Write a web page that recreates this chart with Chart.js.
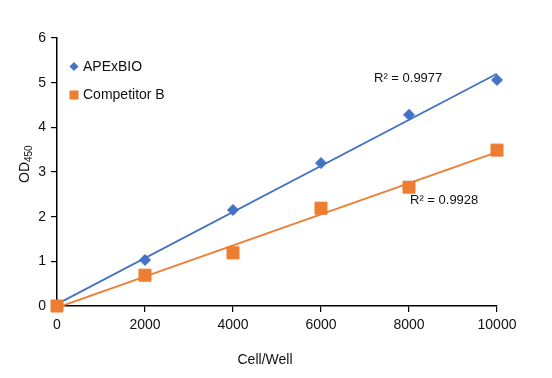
<!DOCTYPE html>
<html>
<head>
<meta charset="utf-8">
<script src="https://cdn.jsdelivr.net/npm/chart.js@4/dist/chart.umd.min.js"></script>
<style>
  html, body { margin: 0; padding: 0; background: #fff; }
  #wrap { width: 552px; height: 378px; }
</style>
</head>
<body>
<div id="wrap"><canvas id="chart" width="552" height="378"></canvas></div>
<script>
const cells = [0, 2000, 4000, 6000, 8000, 10000];
const apexbio = [0, 1.03, 2.15, 3.2, 4.28, 5.06];
const competitorB = [0, 0.69, 1.19, 2.19, 2.66, 3.49];
const seriesNames = ['APExBIO', 'Competitor B'];
const r2Labels = ['R² = 0.9977', 'R² = 0.9928'];
const xTitle = 'Cell/Well';

const BLUE = '#4472C4';
const ORANGE = '#ED7D31';
const FONT = "'Liberation Sans', Arial, sans-serif";

// least squares fit, drawn across the x range like the Excel trendline
function trend(xs, ys) {
    const n = xs.length;
    const mx = xs.reduce((a, b) => a + b, 0) / n;
    const my = ys.reduce((a, b) => a + b, 0) / n;
    let sxy = 0, sxx = 0;
    xs.forEach((x, i) => { sxy += (x - mx) * (ys[i] - my); sxx += (x - mx) * (x - mx); });
    const slope = sxy / sxx;
    const icpt = my - slope * mx;
    const x0 = xs[0], x1 = xs[n - 1];
    return [{ x: x0, y: icpt + slope * x0 }, { x: x1, y: icpt + slope * x1 }];
}

const pts = ys => cells.map((x, i) => ({ x: x, y: ys[i] }));

const annotations = {
    id: 'annotations',
    afterDraw(chart) {
        const ctx = chart.ctx;
        const xs = chart.scales.x, ys = chart.scales.y;
        ctx.save();
        ctx.fillStyle = '#111';
        ctx.textBaseline = 'middle';

        // R² labels
        ctx.font = '13px ' + FONT;
        ctx.textAlign = 'left';
        ctx.fillText(r2Labels[0], xs.getPixelForValue(7205), ys.getPixelForValue(5.1));
        ctx.fillText(r2Labels[1], xs.getPixelForValue(8023), ys.getPixelForValue(2.36));

        // legend in the plot area
        const lx = chart.chartArea.left + 17;
        ctx.font = '14px ' + FONT;
        ctx.fillStyle = BLUE;
        ctx.beginPath();
        ctx.moveTo(lx, 62); ctx.lineTo(lx + 4.5, 66.5); ctx.lineTo(lx, 71); ctx.lineTo(lx - 4.5, 66.5);
        ctx.closePath(); ctx.fill();
        ctx.fillStyle = ORANGE;
        ctx.fillRect(lx - 4.5, 90.5, 9, 9);
        ctx.fillStyle = '#111';
        ctx.fillText(seriesNames[0], lx + 9, 67);
        ctx.fillText(seriesNames[1], lx + 9, 95.5);

        // axis titles
        ctx.textAlign = 'center';
        ctx.fillText(xTitle, 265, 360);

        ctx.translate(25, 183);
        ctx.rotate(-Math.PI / 2);
        ctx.textAlign = 'left';
        ctx.font = '14px ' + FONT;
        ctx.fillText('OD', 0, 0);
        const w = ctx.measureText('OD').width;
        ctx.font = '10px ' + FONT;
        ctx.fillText('450', w, 4);
        ctx.restore();
    }
};

new Chart(document.getElementById('chart'), {
    type: 'scatter',
    data: {
        datasets: [
            {
                label: seriesNames[0],
                data: pts(apexbio),
                backgroundColor: BLUE,
                borderColor: BLUE,
                pointStyle: 'rectRot',
                pointRadius: 5.5,
                pointHoverRadius: 5.5,
                clip: false,
                order: 1
            },
            {
                label: seriesNames[1],
                data: pts(competitorB),
                backgroundColor: ORANGE,
                borderColor: ORANGE,
                pointStyle: 'rect',
                pointRadius: 8.5,
                pointHoverRadius: 8.5,
                clip: false,
                order: 0
            },
            {
                label: 'trend1',
                data: trend(cells, apexbio),
                showLine: true,
                borderColor: BLUE,
                borderWidth: 1.8,
                pointRadius: 0,
                clip: false,
                order: 2
            },
            {
                label: 'trend2',
                data: trend(cells, competitorB),
                showLine: true,
                borderColor: ORANGE,
                borderWidth: 1.8,
                pointRadius: 0,
                clip: false,
                order: 2
            }
        ]
    },
    options: {
        responsive: false,
        animation: false,
        layout: { padding: { left: 0, right: 55, top: 38, bottom: 0 } },
        plugins: {
            legend: { display: false },
            tooltip: { enabled: false }
        },
        scales: {
            x: {
                type: 'linear',
                min: 0,
                max: 10000,
                afterFit: s => { s.height = 72; },
                border: { display: true, color: '#000', width: 1.5 },
                grid: { display: true, drawOnChartArea: false, drawTicks: true, tickLength: 6, color: '#000', lineWidth: 1.2 },
                ticks: { stepSize: 2000, color: '#111', padding: 5, maxRotation: 0, font: { family: FONT, size: 14 },
                         callback: v => String(v) }
            },
            y: {
                min: 0,
                max: 6,
                afterFit: s => { s.width = 57; },
                border: { display: true, color: '#000', width: 1.5 },
                grid: { display: true, drawOnChartArea: false, drawTicks: true, tickLength: 6, color: '#000', lineWidth: 1.2 },
                ticks: { stepSize: 1, color: '#111', padding: 5, font: { family: FONT, size: 14 },
                         callback: v => String(v) }
            }
        }
    },
    plugins: [annotations]
});
</script>
</body>
</html>
